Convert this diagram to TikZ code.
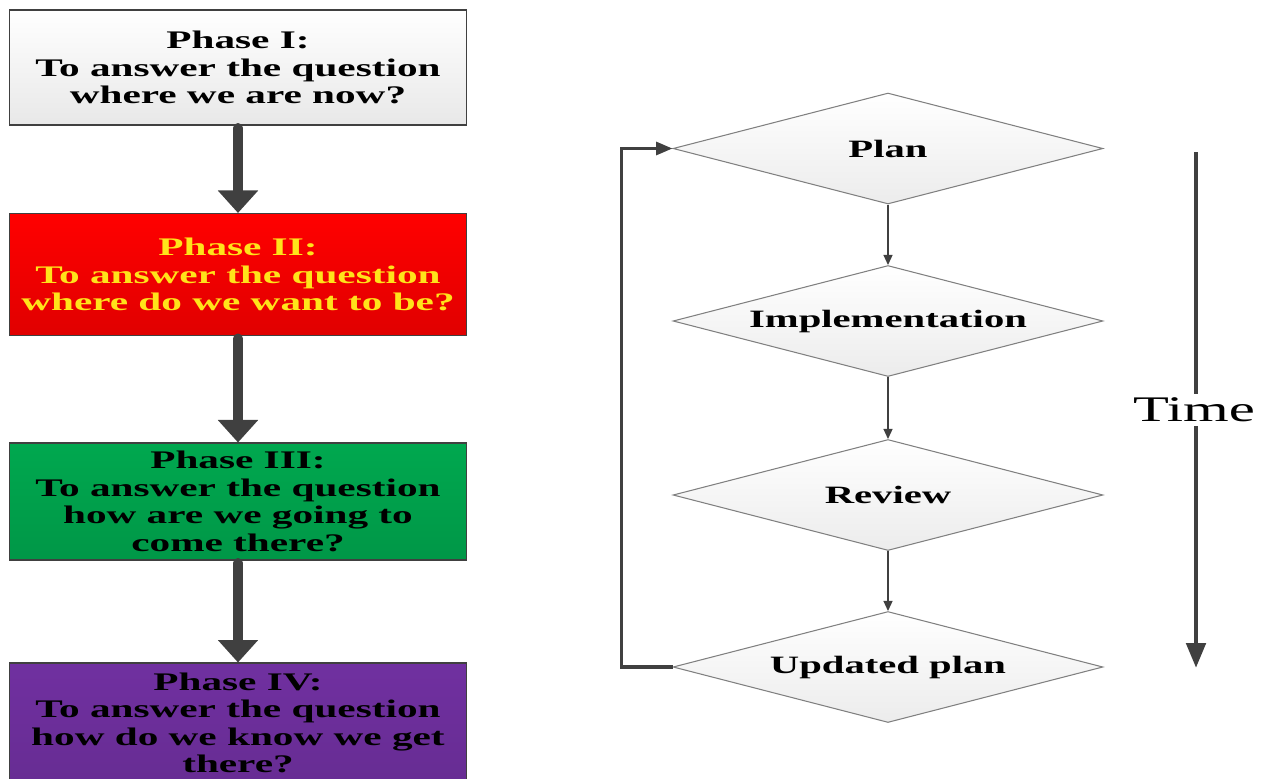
\documentclass[tikz,border=0pt]{standalone}
\usepackage{fontspec}
\setmainfont{Liberation Serif}[FakeStretch=1.63]
\usepackage{tikz}
\usetikzlibrary{arrows.meta, positioning, shapes.geometric}
\definecolor{darkarrow}{HTML}{404040}
\definecolor{phasered}{HTML}{FF0000}
\definecolor{phasegreen}{HTML}{00A84F}
\definecolor{phasepurple}{HTML}{7030A0}
\definecolor{phaseyellow}{HTML}{FFE31A}

\begin{document}
\begin{tikzpicture}[
    x=0.02cm, y=-0.02cm,
    phase/.style={rectangle, draw=darkarrow, line width=0.6pt, minimum width=9.14cm, align=center,
        font=\fontsize{14.4}{15.6}\selectfont\bfseries},
    stepbox/.style={diamond, draw=gray, line width=0.6pt, aspect=3.9, inner sep=0pt,
        minimum width=8.6cm, minimum height=2.22cm, top color=white, bottom color=gray!15,
        font=\fontsize{14.2}{15.6}\selectfont\bfseries},
    bigarrow/.style={-{Triangle[length=0.45cm, width=0.78cm]}, line width=5.7pt, line cap=round, darkarrow},
    thinarrow/.style={-{Triangle[length=0.2cm, width=0.18cm]}, line width=0.7pt, darkarrow},
    looparrow/.style={-{Triangle[length=0.33cm, width=0.26cm]}, line width=1.8pt, darkarrow},
    timearrow/.style={-{Triangle[length=0.5cm, width=0.38cm]}, line width=2.8pt, darkarrow}
]
    \useasboundingbox (0,0) rectangle (1268,778);

    % left column: four phases
    \node[phase, minimum height=2.3cm, top color=white, bottom color=gray!18] (p1) at (238,67.5)
        {Phase I:\\To answer the question\\where we are now?};
    \node[phase, minimum height=2.44cm, top color=phasered, bottom color=phasered!88!black,
        text=phaseyellow] (p2) at (238,274.5)
        {Phase II:\\To answer the question\\where do we want to be?};
    \node[phase, minimum height=2.34cm, top color=phasegreen, bottom color=phasegreen!90!black] (p3) at (238,501.5)
        {Phase III:\\To answer the question\\how are we going to\\come there?};
    \node[phase, minimum height=2.4cm, top color=phasepurple, bottom color=phasepurple!92!black] (p4) at (238,723)
        {Phase IV:\\To answer the question\\how do we know we get\\there?};

    \draw[bigarrow] ([yshift=-0.05cm]p1.south) -- (p2.north);
    \draw[bigarrow] ([yshift=-0.05cm]p2.south) -- (p3.north);
    \draw[bigarrow] ([yshift=-0.05cm]p3.south) -- (p4.north);

    % right column: planning cycle
    \node[stepbox] (plan) at (888,148.5) {Plan};
    \node[stepbox] (impl) at (888,321) {Implementation};
    \node[stepbox] (rev) at (888,495) {Review};
    \node[stepbox] (upd) at (888,667) {Updated plan};

    \draw[thinarrow] (plan.south) -- (impl.north);
    \draw[thinarrow] (impl.south) -- (rev.north);
    \draw[thinarrow] (rev.south) -- (upd.north);
    \draw[looparrow] (upd.west) -- ++(-51,0) |- (plan.west);

    % time axis
    \coordinate (tstart) at (1196,152);
    \coordinate (tend) at (1196,668);
    \draw[timearrow] (tstart) -- (tend);
    \node[fill=white, inner sep=2pt, font=\fontsize{20.5}{22}\selectfont] (time) at (1194,410) {Time};
\end{tikzpicture}
\end{document}
